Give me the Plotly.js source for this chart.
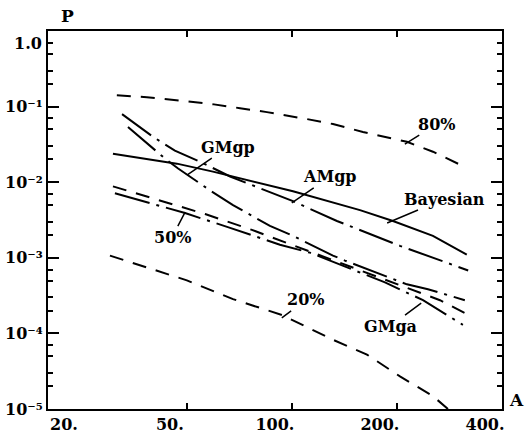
<!DOCTYPE html>
<html>
<head>
<meta charset="utf-8">
<script src="https://cdn.plot.ly/plotly-3.0.1.min.js"></script>
<style>html,body{margin:0;padding:0;background:#fff;}#chart{width:525px;height:438px;}</style>
</head>
<body>
<div id="chart"></div>
<script>
// ---- data (A on x, P on y) ----
const x80 = [31.5, 38.4, 49.4, 59.8, 71.0, 84.8, 110.5, 131.1, 159.8, 213.6, 253.6, 307];
const p80 = [0.141, 0.133, 0.118, 0.107, 0.0953, 0.0845, 0.0684, 0.0588, 0.0462, 0.0342, 0.0253, 0.0166];

const xBayes = [30.7, 46.8, 59.4, 84.8, 100.7, 156.7, 194.8, 253.6, 317];
const pBayes = [0.0238, 0.0176, 0.0138, 0.00908, 0.00758, 0.00427, 0.00307, 0.00195, 0.00110];

const xAMgp = [32.6, 40.0, 46.2, 54.5, 66.5, 84.8, 100.7, 134.6, 204, 320];
const pAMgp = [0.0796, 0.0398, 0.0261, 0.0187, 0.0119, 0.00758, 0.00561, 0.00307, 0.00144, 0.00068];

const xGMgp = [33.9, 43.3, 47.2, 58.2, 67.8, 86.5, 100.7, 131.1, 141.9, 213.6, 245.4, 313];
const pGMgp = [0.0537, 0.0205, 0.0152, 0.00781, 0.00497, 0.00264, 0.00195, 0.00107, 0.000919, 0.000446, 0.000384, 0.000275];

const xGMga = [31.1, 41.3, 49.4, 66.5, 92.4, 112.6, 143.8, 184.8, 237.5, 309];
const pGMga = [0.00713, 0.00497, 0.00391, 0.00249, 0.00149, 0.00117, 0.000744, 0.000473, 0.000275, 0.000130];

const x50 = [30.7, 42.7, 56.4, 76.8, 98.7, 146.7, 204, 265.7, 313];
const p50 = [0.00881, 0.00561, 0.00379, 0.00234, 0.00153, 0.000767, 0.000433, 0.000275, 0.000186];

const x20 = [30.1, 50.0, 67.8, 93.7, 131.1, 164.1, 204.0, 253.6, 280];
const p20 = [0.00107, 0.000503, 0.000284, 0.000175, 0.0000824, 0.0000525, 0.000027, 0.0000148, 0.0000100];

// ---- tick labels ----
const xTickVals = [50, 100, 200, 400];
const xTickText = ['50.', '100.', '200.', '400.'];
const xFirstLabel = '20.';
const yTickVals = [1e-5, 1e-4, 1e-3, 1e-2, 1e-1];
const yTickText = ['10\u207B\u2075', '10\u207B\u2074', '10\u207B\u00B3', '10\u207B\u00B2', '10\u207B\u00B9'];
const yTopLabel = '1.0';
const yMinorVals = [2e-5,3e-5,5e-5,7e-5, 2e-4,3e-4,5e-4,7e-4, 2e-3,3e-3,5e-3,7e-3, 2e-2,3e-2,5e-2,7e-2, 0.2,0.3,0.5,0.7];

const FONT = 'DejaVu Serif, serif';
const DASHED = '14px,10px';
const LDASHDOT = '36px,7px,3px,7px';

function tr(x, y, dash, name) {
  return {x: x, y: y, mode: 'lines', name: name, type: 'scatter',
          line: {color: '#000', width: 2, dash: dash}, hoverinfo: 'skip'};
}

const data = [
  tr(x80, p80, DASHED, '80%'),
  tr(xBayes, pBayes, 'solid', 'Bayesian'),
  tr(xAMgp, pAMgp, LDASHDOT, 'AMgp'),
  tr(xGMgp, pGMgp, LDASHDOT, 'GMgp'),
  tr(xGMga, pGMga, LDASHDOT, 'GMga'),
  tr(x50, p50, DASHED, '50%'),
  tr(x20, p20, DASHED, '20%')
];

const lblFont = {family: FONT, size: 16, color: '#000', weight: 'bold'};
const tickFont = {family: FONT, size: 16, color: '#000', weight: 'bold'};
function lab(text, x, y, ax, ay) {
  return {text: text, xref: 'paper', yref: 'paper', x: x, y: y, ax: ax, ay: ay,
          showarrow: true, arrowhead: 0, arrowwidth: 1.5, arrowcolor: '#000',
          standoff: 0, startstandoff: 0, font: lblFont};
}

const layout = {
  width: 525, height: 438,
  margin: {l: 48, r: 23, t: 31, b: 29},
  paper_bgcolor: '#fff', plot_bgcolor: '#fff',
  showlegend: false,
  xaxis: {
    type: 'log', range: [Math.log10(20), Math.log10(400)],
    tickmode: 'array', tickvals: xTickVals, ticktext: xTickText,
    ticks: 'inside', ticklen: 6, tickwidth: 2, tickcolor: '#000',
    showline: true, linewidth: 2, linecolor: '#000', mirror: 'ticks',
    showgrid: false, zeroline: false,
    ticklabelshift: -17,
    tickfont: tickFont
  },
  yaxis: {
    type: 'log', range: [-5, 0],
    tickmode: 'array', tickvals: yTickVals, ticktext: yTickText,
    ticks: 'inside', ticklen: 11, tickwidth: 2, tickcolor: '#000',
    minor: {tickmode: 'array', tickvals: yMinorVals, ticks: 'inside', ticklen: 5, tickwidth: 2, tickcolor: '#000', showgrid: false},
    showline: true, linewidth: 2, linecolor: '#000', mirror: 'ticks',
    showgrid: false, zeroline: false,
    tickfont: tickFont
  },
  annotations: [
    {text: 'P', xref: 'paper', yref: 'paper', x: 0.044, y: 1.04, xanchor: 'center', yanchor: 'middle',
     showarrow: false, font: {family: FONT, size: 17, color: '#000', weight: 'bold'}},
    {text: 'A', xref: 'paper', yref: 'paper', x: 1.033, y: 0.024, xanchor: 'center', yanchor: 'middle',
     showarrow: false, font: {family: FONT, size: 17, color: '#000', weight: 'bold'}},
    {text: yTopLabel, xref: 'paper', yref: 'paper', x: -0.008, y: 0.968, xanchor: 'right', yanchor: 'middle',
     showarrow: false, font: tickFont},
    {text: xFirstLabel, xref: 'paper', yref: 'paper', x: 0.0, y: -0.04, xanchor: 'left', yanchor: 'middle',
     showarrow: false, font: tickFont},
    lab('80%', 0.786, 0.701, 32, -20),
    lab('GMgp', 0.306, 0.619, 41, -28),
    lab('AMgp', 0.537, 0.545, 38, -26),
    lab('Bayesian', 0.747, 0.492, 57, -24),
    lab('50%', 0.302, 0.521, -13, 25),
    lab('20%', 0.515, 0.241, 24, -18),
    lab('GMga', 0.822, 0.280, -31, 23)
  ]
};

Plotly.newPlot('chart', data, layout, {displayModeBar: false});
</script>
</body>
</html>
